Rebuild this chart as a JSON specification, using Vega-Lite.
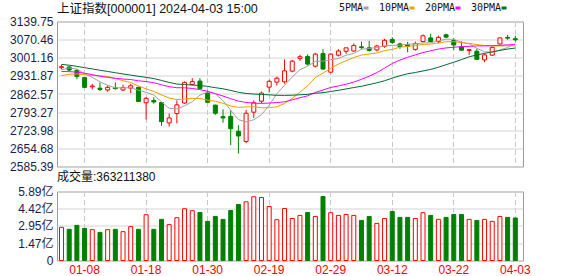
{
 "$schema": "https://vega.github.io/schema/vega-lite/v6.json",
 "background": "white",
 "padding": {"left": 0, "top": 2.5, "right": 0, "bottom": 0},
 "autosize": {"type": "pad"},
 "config": {
  "view": {"stroke": "#999999", "strokeWidth": 1},
  "font": "Liberation Sans, Noto Sans CJK SC",
  "axis": {"labelFont": "Liberation Sans, Noto Sans CJK SC", "labelFontSize": 12, "labelColor": "#1c1c48", "ticks": false, "tickSize": 0, "domain": false, "title": null, "gridColor": "#d4d4d4", "gridWidth": 1, "labelOverlap": false},
  "concat": {"spacing": -4}
 },
 "datasets": {"k": [
{"d":"01-03","o":2963,"h":2975,"l":2957,"c":2967,"v":2.83,"m5":2954.8,"m10":2932.8,"m20":2948.8,"m30":2975.7},
{"d":"01-04","o":2966,"h":2969,"l":2950,"c":2954,"v":2.66,"m5":2962.6,"m10":2938.0,"m20":2948.0,"m30":2972.7},
{"d":"01-05","o":2953,"h":2959,"l":2919,"c":2930,"v":3.00,"m5":2957.6,"m10":2939.1,"m20":2946.2,"m30":2968.3},
{"d":"01-08","o":2925,"h":2928,"l":2886,"c":2888,"v":2.74,"m5":2940.2,"m10":2936.4,"m20":2942.1,"m30":2963.2},
{"d":"01-09","o":2890,"h":2901,"l":2880,"c":2893,"v":2.63,"m5":2926.4,"m10":2933.8,"m20":2936.6,"m30":2958.6},
{"d":"01-10","o":2885,"h":2907,"l":2874,"c":2880,"v":2.40,"m5":2909.0,"m10":2931.9,"m20":2930.4,"m30":2953.3},
{"d":"01-11","o":2878,"h":2896,"l":2871,"c":2888,"v":2.63,"m5":2895.8,"m10":2929.2,"m20":2926.3,"m30":2948.8},
{"d":"01-12","o":2886,"h":2907,"l":2880,"c":2883,"v":2.66,"m5":2886.4,"m10":2922.0,"m20":2922.5,"m30":2943.9},
{"d":"01-15","o":2878,"h":2898,"l":2874,"c":2887,"v":2.46,"m5":2886.2,"m10":2913.2,"m20":2919.7,"m30":2939.1},
{"d":"01-16","o":2885,"h":2901,"l":2866,"c":2894,"v":2.89,"m5":2886.4,"m10":2906.4,"m20":2917.9,"m30":2934.8},
{"d":"01-17","o":2888,"h":2891,"l":2832,"c":2834,"v":2.66,"m5":2877.2,"m10":2893.1,"m20":2913.0,"m30":2930.2},
{"d":"01-18","o":2829,"h":2851,"l":2765,"c":2846,"v":3.91,"m5":2868.8,"m10":2882.3,"m20":2910.2,"m30":2926.1},
{"d":"01-19","o":2838,"h":2850,"l":2825,"c":2832,"v":2.66,"m5":2858.6,"m10":2872.5,"m20":2905.8,"m30":2921.6},
{"d":"01-22","o":2830,"h":2831,"l":2741,"c":2757,"v":3.51,"m5":2832.6,"m10":2859.4,"m20":2897.9,"m30":2914.5},
{"d":"01-23","o":2752,"h":2788,"l":2738,"c":2771,"v":3.06,"m5":2808.0,"m10":2847.2,"m20":2890.5,"m30":2906.8},
{"d":"01-24","o":2788,"h":2838,"l":2750,"c":2821,"v":3.65,"m5":2805.4,"m10":2841.3,"m20":2886.6,"m30":2900.7},
{"d":"01-25","o":2828,"h":2911,"l":2825,"c":2906,"v":4.42,"m5":2817.4,"m10":2843.1,"m20":2886.2,"m30":2898.6},
{"d":"01-26","o":2899,"h":2923,"l":2895,"c":2910,"v":4.25,"m5":2833.0,"m10":2845.8,"m20":2883.9,"m30":2896.9},
{"d":"01-29","o":2912,"h":2923,"l":2882,"c":2883,"v":4.10,"m5":2858.2,"m10":2845.4,"m20":2879.3,"m30":2894.9},
{"d":"01-30","o":2866,"h":2876,"l":2829,"c":2831,"v":3.34,"m5":2870.2,"m10":2839.1,"m20":2872.8,"m30":2891.6},
{"d":"01-31","o":2820,"h":2822,"l":2783,"c":2789,"v":3.76,"m5":2863.8,"m10":2834.6,"m20":2863.9,"m30":2886.8},
{"d":"02-01","o":2776,"h":2804,"l":2753,"c":2771,"v":3.51,"m5":2836.8,"m10":2827.1,"m20":2854.7,"m30":2882.5},
{"d":"02-02","o":2777,"h":2800,"l":2667,"c":2730,"v":4.27,"m5":2800.8,"m10":2816.9,"m20":2844.7,"m30":2876.2},
{"d":"02-05","o":2720,"h":2743,"l":2635,"c":2702,"v":4.78,"m5":2764.6,"m10":2811.4,"m20":2835.4,"m30":2869.1},
{"d":"02-06","o":2681,"h":2802,"l":2674,"c":2789,"v":5.01,"m5":2756.2,"m10":2813.2,"m20":2830.2,"m30":2864.7},
{"d":"02-07","o":2793,"h":2838,"l":2771,"c":2829,"v":5.44,"m5":2764.2,"m10":2814.0,"m20":2827.7,"m30":2862.4},
{"d":"02-08","o":2835,"h":2872,"l":2828,"c":2866,"v":5.38,"m5":2783.2,"m10":2810.0,"m20":2826.6,"m30":2860.8},
{"d":"02-19","o":2889,"h":2917,"l":2868,"c":2911,"v":4.61,"m5":2819.4,"m10":2810.1,"m20":2828.0,"m30":2859.3},
{"d":"02-20","o":2908,"h":2929,"l":2895,"c":2923,"v":3.48,"m5":2863.6,"m10":2814.1,"m20":2829.8,"m30":2857.6},
{"d":"02-21","o":2909,"h":2995,"l":2902,"c":2951,"v":4.44,"m5":2896.0,"m10":2826.1,"m20":2832.6,"m30":2857.2},
{"d":"02-22","o":2950,"h":2993,"l":2945,"c":2988,"v":3.59,"m5":2927.8,"m10":2846.0,"m20":2840.3,"m30":2857.9},
{"d":"02-23","o":2999,"h":3012,"l":2989,"c":3005,"v":3.85,"m5":2955.6,"m10":2869.4,"m20":2848.3,"m30":2859.6},
{"d":"02-26","o":3006,"h":3014,"l":2972,"c":2977,"v":4.10,"m5":2968.8,"m10":2894.1,"m20":2855.5,"m30":2861.2},
{"d":"02-27","o":2969,"h":3020,"l":2964,"c":3015,"v":3.76,"m5":2987.2,"m10":2925.4,"m20":2868.4,"m30":2865.4},
{"d":"02-28","o":3017,"h":3034,"l":2955,"c":2958,"v":5.46,"m5":2988.6,"m10":2942.3,"m20":2877.8,"m30":2867.6},
{"d":"02-29","o":2946,"h":3018,"l":2942,"c":3015,"v":4.08,"m5":2994.0,"m10":2960.9,"m20":2887.5,"m30":2872.1},
{"d":"03-01","o":3011,"h":3034,"l":3006,"c":3027,"v":3.85,"m5":2998.4,"m10":2977.0,"m20":2893.5,"m30":2876.7},
{"d":"03-04","o":3026,"h":3040,"l":3016,"c":3039,"v":3.93,"m5":3010.8,"m10":2989.8,"m20":2900.0,"m30":2881.9},
{"d":"03-05","o":3027,"h":3056,"l":3024,"c":3048,"v":3.85,"m5":3017.4,"m10":3002.3,"m20":2908.2,"m30":2887.3},
{"d":"03-06","o":3043,"h":3063,"l":3034,"c":3040,"v":3.42,"m5":3033.8,"m10":3011.2,"m20":2918.7,"m30":2892.1},
{"d":"03-07","o":3039,"h":3066,"l":3025,"c":3029,"v":3.76,"m5":3036.6,"m10":3015.3,"m20":2930.7,"m30":2898.6},
{"d":"03-08","o":3031,"h":3051,"l":3026,"c":3046,"v":3.17,"m5":3040.4,"m10":3019.4,"m20":2944.4,"m30":2905.3},
{"d":"03-11","o":3045,"h":3074,"l":3039,"c":3068,"v":3.59,"m5":3046.2,"m10":3028.5,"m20":2961.3,"m30":2913.2},
{"d":"03-12","o":3071,"h":3080,"l":3054,"c":3060,"v":4.19,"m5":3048.6,"m10":3033.0,"m20":2979.2,"m30":2923.3},
{"d":"03-13","o":3054,"h":3059,"l":3035,"c":3044,"v":3.68,"m5":3049.4,"m10":3041.6,"m20":2992.0,"m30":2932.4},
{"d":"03-14","o":3051,"h":3062,"l":3022,"c":3045,"v":3.68,"m5":3052.6,"m10":3044.6,"m20":3002.8,"m30":2939.8},
{"d":"03-15","o":3033,"h":3063,"l":3028,"c":3055,"v":3.59,"m5":3054.4,"m10":3047.4,"m20":3012.2,"m30":2944.8},
{"d":"03-18","o":3063,"h":3090,"l":3060,"c":3085,"v":4.08,"m5":3057.8,"m10":3052.0,"m20":3020.9,"m30":2950.6},
{"d":"03-19","o":3077,"h":3093,"l":3062,"c":3063,"v":3.85,"m5":3058.4,"m10":3053.5,"m20":3027.9,"m30":2956.6},
{"d":"03-20","o":3063,"h":3086,"l":3057,"c":3079,"v":3.51,"m5":3065.4,"m10":3057.4,"m20":3034.3,"m30":2964.9},
{"d":"03-21","o":3089,"h":3093,"l":3077,"c":3080,"v":3.68,"m5":3072.4,"m10":3062.5,"m20":3038.9,"m30":2974.6},
{"d":"03-22","o":3067,"h":3076,"l":3031,"c":3050,"v":3.93,"m5":3071.4,"m10":3062.9,"m20":3041.2,"m30":2983.9},
{"d":"03-25","o":3043,"h":3064,"l":3029,"c":3030,"v":3.93,"m5":3060.4,"m10":3059.1,"m20":3043.8,"m30":2993.9},
{"d":"03-26","o":3029,"h":3035,"l":3012,"c":3032,"v":3.51,"m5":3054.2,"m10":3056.3,"m20":3044.7,"m30":3004.9},
{"d":"03-27","o":3026,"h":3035,"l":2993,"c":2995,"v":3.42,"m5":3037.4,"m10":3051.4,"m20":3046.5,"m30":3011.8},
{"d":"03-28","o":2993,"h":3017,"l":2984,"c":3012,"v":3.51,"m5":3023.8,"m10":3048.1,"m20":3046.4,"m30":3017.9},
{"d":"03-29","o":3011,"h":3044,"l":3008,"c":3041,"v":3.34,"m5":3022.0,"m10":3046.7,"m20":3047.1,"m30":3023.7},
{"d":"04-01","o":3054,"h":3078,"l":3052,"c":3077,"v":3.76,"m5":3031.4,"m10":3045.9,"m20":3049.0,"m30":3029.2},
{"d":"04-02","o":3079,"h":3089,"l":3070,"c":3076,"v":3.68,"m5":3040.2,"m10":3047.2,"m20":3050.4,"m30":3034.3},
{"d":"04-03","o":3074,"h":3085,"l":3063,"c":3070,"v":3.63,"m5":3055.2,"m10":3046.3,"m20":3051.9,"m30":3038.3}
 ]},
 "vconcat": [
  {
   "width": 466, "height": 145,
   "data": {"name": "k"},
   "encoding": {
    "x": {"field": "d", "type": "ordinal", "scale": {"paddingInner": 0, "paddingOuter": 0.2925, "align": 0.145},
     "axis": {"values": ["01-08","01-18","01-30","02-19","02-29","03-12","03-22","04-03"], "labels": false, "grid": true, "gridDash": [5,3], "gridColor": "#c8c8c8", "bandPosition": 0.5}}
   },
   "layer": [
    {"mark": {"type": "rule", "strokeWidth": 1},
     "encoding": {
      "y": {"field": "l", "type": "quantitative", "scale": {"domain": [2585.39, 3139.75], "zero": false, "nice": false},
       "axis": {"values": [2585.39, 2654.68, 2723.98, 2793.27, 2862.57, 2931.87, 3001.16, 3070.46, 3139.75], "tickCount": 20, "format": ".2f", "grid": true, "labelPadding": 4, "minExtent": 56, "labelOverlap": false}},
      "y2": {"field": "h"},
      "color": {"condition": {"test": "datum.c >= datum.o", "value": "#ff0000"}, "value": "#008000"}
     }},
    {"mark": {"type": "bar", "width": {"band": 0.52}, "strokeWidth": 1},
     "encoding": {
      "y": {"field": "o", "type": "quantitative"},
      "y2": {"field": "c"},
      "fill": {"condition": {"test": "datum.c >= datum.o", "value": "#ffffff"}, "value": "#008000"},
      "stroke": {"condition": {"test": "datum.c >= datum.o", "value": "#ff0000"}, "value": "#008000"}
     }},
    {"transform": [{"fold": ["m5", "m10", "m20", "m30"], "as": ["k", "val"]}],
     "mark": {"type": "line", "strokeWidth": 1},
     "encoding": {
      "y": {"field": "val", "type": "quantitative"},
      "color": {"field": "k", "type": "nominal",
       "scale": {"domain": ["m5", "m10", "m20", "m30"], "range": ["#a0a0a0", "#f0a000", "#ff00ff", "#006a35"]},
       "legend": {"orient": "none", "legendX": 0, "legendY": -18.5, "direction": "horizontal", "padding": 0,
        "title": "上证指数[000001] 2024-04-03 15:00", "titleOrient": "left", "titleFont": "Liberation Sans, Noto Sans CJK SC", "titleFontSize": 12.5, "titleFontWeight": "normal", "titleColor": "#111111", "titleLimit": 400, "titlePadding": 103,
        "labelFont": "DejaVu Sans Mono", "labelFontSize": 10, "labelColor": "#111111", "labelAlign": "right", "labelOffset": -8,
        "symbolType": "stroke", "symbolSize": 25, "symbolStrokeWidth": 3, "columnPadding": 3,
        "labelExpr": "{'m5':'5PMA','m10':'10PMA','m20':'20PMA','m30':'30PMA'}[datum.label]"}}
     }}
   ]
  },
  {
   "width": 466, "height": 69,
   "title": {"text": "成交量:363211380", "anchor": "start", "frame": "group", "fontSize": 12, "fontWeight": "normal", "font": "Liberation Sans, Noto Sans CJK SC", "color": "#111111", "offset": 2},
   "data": {"name": "k"},
   "mark": {"type": "bar", "width": {"band": 0.52}, "strokeWidth": 1},
   "encoding": {
    "x": {"field": "d", "type": "ordinal", "scale": {"paddingInner": 0, "paddingOuter": 0.2925, "align": 0.145},
     "axis": {"values": ["01-08","01-18","01-30","02-19","02-29","03-12","03-22","04-03"], "labelColor": "#ff0000", "labelAngle": 0, "labelPadding": 4, "grid": true, "gridDash": [5,3], "gridColor": "#c8c8c8", "bandPosition": 0.5}},
    "y": {"field": "v", "type": "quantitative", "scale": {"domain": [0, 5.89], "nice": false, "zero": true},
     "axis": {"values": [0, 1.47, 2.95, 4.42, 5.89], "tickCount": 20, "labelExpr": "datum.value == 0 ? '0' : format(datum.value, '.2f') + '亿'", "grid": true, "labelPadding": 4, "minExtent": 56, "labelOverlap": false}},
    "fill": {"condition": {"test": "datum.c >= datum.o", "value": "#ffffff"}, "value": "#008000"},
    "stroke": {"condition": {"test": "datum.c >= datum.o", "value": "#ff0000"}, "value": "#008000"}
   }
  }
 ]
}
